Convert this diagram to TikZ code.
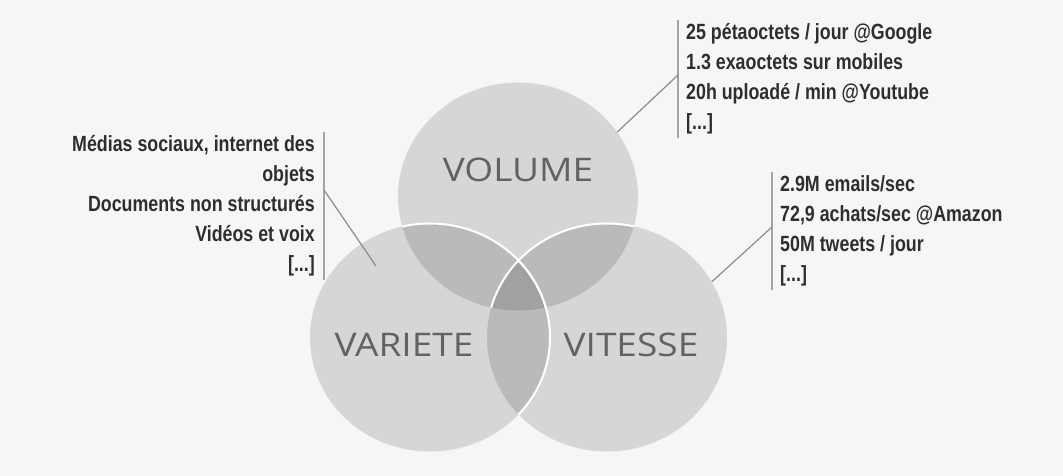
\documentclass[tikz,border=0pt]{standalone}
\usepackage{fontspec}
\usetikzlibrary{positioning,shapes.geometric}
\newfontfamily\setfont[FakeStretch=1.14]{Open Sans}
\newfontfamily\infofont[FakeStretch=0.81]{Liberation Sans Bold}
\definecolor{bgcol}{HTML}{F6F6F6}
\definecolor{settext}{HTML}{626262}
\definecolor{infotext}{HTML}{2E2E2E}
\definecolor{barcol}{HTML}{A4A4A4}
\definecolor{leadcol}{HTML}{8C8C8C}

\begin{document}
\begin{tikzpicture}[x=1pt,y=1pt,node distance=2cm,on grid,
  set/.style={ellipse,minimum width=240pt,minimum height=228pt,inner sep=0pt,
    fill=black,fill opacity=0.13},
  rim/.style={draw=white,line width=2pt},
  title/.style={font=\setfont\fontsize{32.5}{36}\selectfont,text=settext},
  info/.style={font=\infofont\fontsize{22}{30}\selectfont,text=infotext,
    inner xsep=8pt,inner ysep=3.5pt},
  bar/.style={draw=barcol,line width=2pt},
  leader/.style={draw=leadcol,line width=1.2pt}]
\useasboundingbox (0,0) rectangle (1063,476);
\fill[bgcol] (0,0) rectangle (1063,476);

% the three sets
\node[set] (volume) at (518,279.5) {};
\node[set] (variete) [below left=141pt and 88pt of volume] {};
\node[set] (vitesse) [below right=141pt and 89pt of volume] {};
\begin{scope}
\clip (volume.center) ellipse [x radius=120, y radius=114];
\draw[rim] (variete.center) ellipse [x radius=120, y radius=114];
\draw[rim] (vitesse.center) ellipse [x radius=120, y radius=114];
\end{scope}
\begin{scope}
\clip (vitesse.center) ellipse [x radius=120, y radius=114];
\draw[rim] (variete.center) ellipse [x radius=120, y radius=114];
\end{scope}

\node[title] (volume_t) [above=26.5pt of volume] {VOLUME};
\node[title] (variete_t) [below left=7.5pt and 26pt of variete] {VARIETE};
\node[title] (vitesse_t) [below right=7.5pt and 24pt of vitesse] {VITESSE};

% the notes
\node[info,anchor=north west,align=left] (volinfo) at (678,456)
  {25 pétaoctets / jour @Google\\1.3 exaoctets sur mobiles\\
   20h uploadé / min @Youtube\\{[...]}};
\node[info,anchor=north west,align=left] (vitinfo) at (772,304)
  {2.9M emails/sec\\72,9 achats/sec @Amazon\\50M tweets / jour\\{[...]}};
\node[info,anchor=north east,align=right,inner xsep=9pt] (varinfo) at (324,344)
  {Médias sociaux, internet des\\objets\\Documents non structurés\\
   Vidéos et voix\\{[...]}};

\draw[bar] (volinfo.north west) -- (volinfo.south west);
\draw[bar] (vitinfo.north west) -- (vitinfo.south west);
\draw[bar] (varinfo.north east) -- (varinfo.south east);

\coordinate (volpin) at ([yshift=-55pt]volinfo.north west);
\coordinate (vitpin) at ([yshift=-55pt]vitinfo.north west);
\coordinate (varpin) at ([yshift=-58pt]varinfo.north east);
\coordinate (varend) at ([shift={(-54pt,71.5pt)}]variete.center);

\path[leader]
  (volpin) edge (volume.33)
  (vitpin) edge (vitesse.28)
  (varpin) edge (varend);
\end{tikzpicture}
\end{document}
